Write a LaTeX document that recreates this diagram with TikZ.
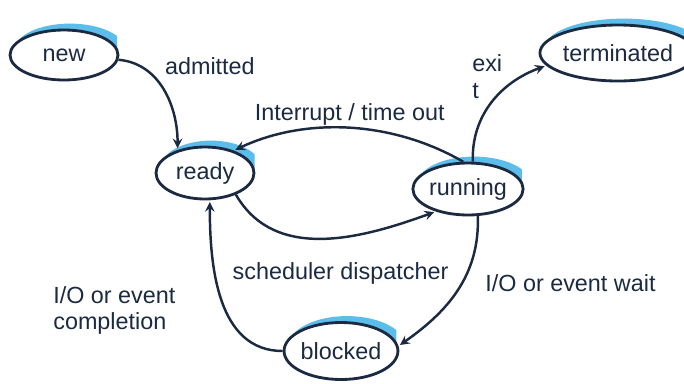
\documentclass[tikz,border=0pt]{standalone}
\usepackage{fontspec}
\setmainfont{Liberation Sans}
\usetikzlibrary{shapes.geometric,calc,backgrounds}
\definecolor{ink}{HTML}{1B2A41}
\definecolor{glowblue}{HTML}{5CBDEA}

\begin{document}
\begin{tikzpicture}[x=0.02cm,y=0.02cm,->,>=stealth,shorten >=1pt,
    state/.style={ellipse,draw=ink,fill=white,line width=1.6pt,inner sep=0pt,text=ink},
    glow/.style={-,fill=glowblue},
    every edge/.style={draw=ink,line width=1.4pt},
    lbl/.style={text=ink,align=left,inner sep=2pt},
    font=\fontsize{13.3}{15.3}\selectfont]
    \useasboundingbox (0,0) rectangle (684,-383);

    % process states
    \node[state,minimum width=2.16cm,minimum height=1cm] (new) at (64,-55) {new};
    \node[state,minimum width=1.96cm,minimum height=1.04cm] (ready) at (205,-173) {ready};
    \node[state,minimum width=2.08cm,minimum height=1.04cm] (running) at (468,-189) {running};
    \node[state,minimum width=2.46cm,minimum height=1.12cm] (terminated) at (618,-53) {terminated};
    \node[state,minimum width=2.2cm,minimum height=1.14cm] (blocked) at (341,-351) {blocked};

    % blue rim on the upper right of every state
    \begin{scope}[on background layer]
        \foreach \st in {new,ready,running,terminated,blocked} {
            \begin{scope}
                \clip ($(\st.west)+(-8,-2)$) rectangle ($(\st.north east)+(14,14)$);
                \fill[glow] let \p1=($(\st.east)-(\st.center)$), \p2=($(\st.north)-(\st.center)$)
                    in ($(\st.center)+(6,5)$) ellipse[x radius=\x1,y radius=\y2];
            \end{scope}
        }
    \end{scope}

    \path
        (new) edge[out=-5,in=90] node[lbl,pos=0.3,anchor=west,xshift=6,yshift=4] {admitted} (ready.140)
        (running.100) edge[out=150,in=25,looseness=0.9] node[lbl,midway,above,xshift=0,yshift=-1] {Interrupt / time out} (ready.38)
        (ready.-35) edge[out=-60,in=-160] node[lbl,midway,below=0.38cm,xshift=10] {scheduler dispatcher} (running.-145)
        (running.80) edge[out=92,in=200] node[lbl,pos=0.6,left,xshift=3.5,yshift=9] {exi\\t} (terminated.190)
        (running.-70) edge[out=-88,in=35] node[lbl,pos=0.4,anchor=west,xshift=9,yshift=-3] {I/O or event wait} (blocked.5)
        (blocked) edge[out=180,in=-90] node[lbl,pos=0.45,anchor=east,xshift=-25.5,yshift=-1] {I/O or event\\completion} (ready.-80)
        ;
\end{tikzpicture}
\end{document}
